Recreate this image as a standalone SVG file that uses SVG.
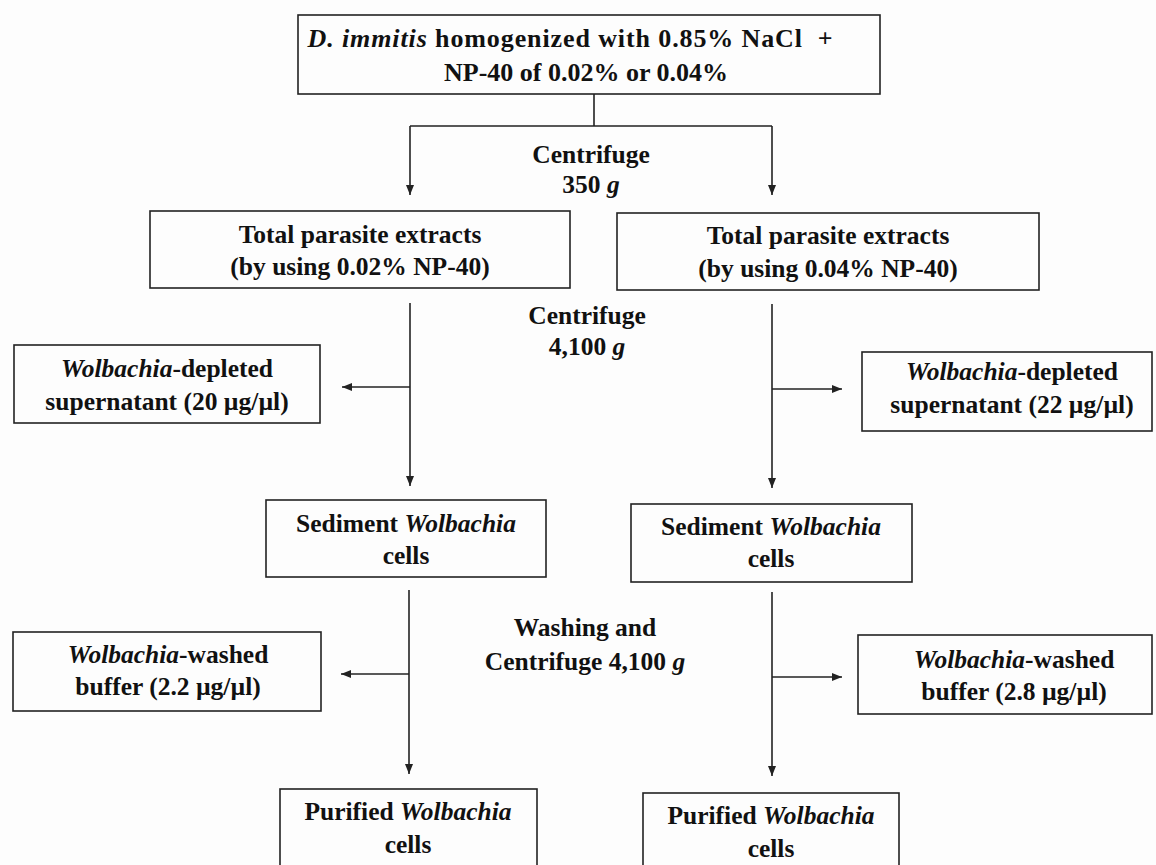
<svg xmlns="http://www.w3.org/2000/svg" width="1156" height="865" viewBox="0 0 1156 865">
<style>
.bg{fill:#fdfdfd}
.box{fill:none;stroke:#222;stroke-width:1.6}
.t{font-family:"Liberation Serif","Times New Roman",serif;font-weight:bold;font-size:25.5px;fill:#111;text-anchor:middle}
.big{font-size:26px}
.i{font-style:italic}
.c{fill:none;stroke:#222;stroke-width:1.6}
</style>
<defs>
<marker id="ah" markerUnits="userSpaceOnUse" markerWidth="12" markerHeight="10" refX="10" refY="5" orient="auto">
<path d="M0,1 L10,5 L0,9 Z" fill="#222"/>
</marker>
</defs>
<rect class="bg" x="0" y="0" width="1156" height="865"/>
<g id="connectors">
<path class="c" d="M594,94 V126 M410,126 H772"/>
<path class="c" d="M410,126 V195" marker-end="url(#ah)"/>
<path class="c" d="M772,126 V195" marker-end="url(#ah)"/>
<path class="c" d="M410,303 V486" marker-end="url(#ah)"/>
<path class="c" d="M410,387 H342" marker-end="url(#ah)"/>
<path class="c" d="M772,304 V488" marker-end="url(#ah)"/>
<path class="c" d="M772,389 H842" marker-end="url(#ah)"/>
<path class="c" d="M409,590 V774" marker-end="url(#ah)"/>
<path class="c" d="M409,674 H341" marker-end="url(#ah)"/>
<path class="c" d="M772,592 V776" marker-end="url(#ah)"/>
<path class="c" d="M772,677 H842" marker-end="url(#ah)"/>
</g>
<g id="label-centrifuge-350">
<text class="t" x="591" y="163">Centrifuge</text>
<text class="t" x="591" y="193">350 <tspan class="i">g</tspan></text>
</g>
<g id="label-centrifuge-4100">
<text class="t" x="587" y="324">Centrifuge</text>
<text class="t" x="587" y="355">4,100 <tspan class="i">g</tspan></text>
</g>
<g id="label-washing">
<text class="t" x="585" y="636">Washing and</text>
<text class="t" x="585" y="670">Centrifuge 4,100 <tspan class="i">g</tspan></text>
</g>
<g id="node-start">
<rect class="box" x="298" y="15" width="582" height="79"/>
<text class="t big" x="570" y="47" xml:space="preserve" textLength="525" lengthAdjust="spacing"><tspan class="i">D. immitis</tspan> homogenized with 0.85% NaCl  +</text>
<text class="t big" x="586" y="81">NP-40 of 0.02% or 0.04%</text>
</g>
<g id="node-total-002">
<rect class="box" x="150" y="211" width="420" height="77"/>
<text class="t" x="360" y="243">Total parasite extracts</text>
<text class="t" x="360" y="275">(by using 0.02% NP-40)</text>
</g>
<g id="node-total-004">
<rect class="box" x="617" y="213" width="422" height="77"/>
<text class="t" x="828" y="244">Total parasite extracts</text>
<text class="t" x="828" y="277">(by using 0.04% NP-40)</text>
</g>
<g id="node-depleted-20">
<rect class="box" x="14" y="345" width="306" height="78"/>
<text class="t" x="167" y="377"><tspan class="i">Wolbachia</tspan>-depleted</text>
<text class="t" x="167" y="410">supernatant (20 µg/µl)</text>
</g>
<g id="node-depleted-22">
<rect class="box" x="862" y="352" width="290" height="79"/>
<text class="t" x="1012" y="380"><tspan class="i">Wolbachia</tspan>-depleted</text>
<text class="t" x="1012" y="413">supernatant (22 µg/µl)</text>
</g>
<g id="node-sediment-left">
<rect class="box" x="266" y="500" width="280" height="77"/>
<text class="t" x="406" y="532">Sediment <tspan class="i">Wolbachia</tspan></text>
<text class="t" x="406" y="564">cells</text>
</g>
<g id="node-sediment-right">
<rect class="box" x="631" y="504" width="281" height="78"/>
<text class="t" x="771" y="535">Sediment <tspan class="i">Wolbachia</tspan></text>
<text class="t" x="771" y="567">cells</text>
</g>
<g id="node-washed-22">
<rect class="box" x="13" y="632" width="308" height="79"/>
<text class="t" x="168" y="663"><tspan class="i">Wolbachia</tspan>-washed</text>
<text class="t" x="168" y="695">buffer (2.2 µg/µl)</text>
</g>
<g id="node-washed-28">
<rect class="box" x="858" y="635" width="294" height="79"/>
<text class="t" x="1014" y="668"><tspan class="i">Wolbachia</tspan>-washed</text>
<text class="t" x="1014" y="700">buffer (2.8 µg/µl)</text>
</g>
<g id="node-purified-left">
<rect class="box" x="280" y="789" width="257" height="90"/>
<text class="t" x="408" y="820">Purified <tspan class="i">Wolbachia</tspan></text>
<text class="t" x="408" y="853">cells</text>
</g>
<g id="node-purified-right">
<rect class="box" x="643" y="793" width="256" height="90"/>
<text class="t" x="771" y="824">Purified <tspan class="i">Wolbachia</tspan></text>
<text class="t" x="771" y="857">cells</text>
</g>
</svg>
